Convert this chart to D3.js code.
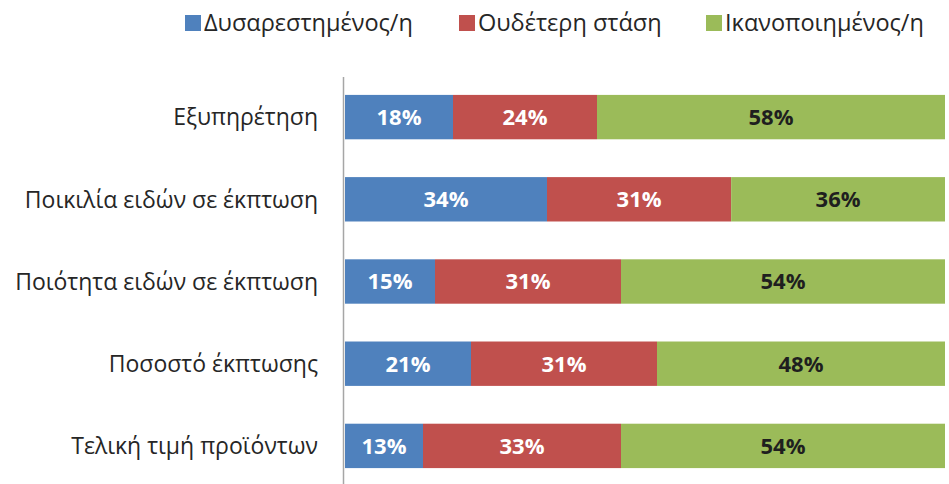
<!DOCTYPE html>
<html>
<head>
<meta charset="utf-8">
<script src="https://cdn.jsdelivr.net/npm/d3@7"></script>
<style>
  body { margin: 0; background: #fff; }
  svg { font-family: "Open Sans", sans-serif; }
</style>
</head>
<body>
<svg width="949" height="484"></svg>
<script>
let categories = [
  "Εξυπηρέτηση",
  "Ποικιλία ειδών σε έκπτωση",
  "Ποιότητα ειδών σε έκπτωση",
  "Ποσοστό έκπτωσης",
  "Τελική τιμή προϊόντων"
];
let seriesNames = ["Δυσαρεστημένος/η", "Ουδέτερη στάση", "Ικανοποιημένος/η"];
let dissatisfied = [18, 34, 15, 21, 13];
let neutral = [24, 31, 31, 31, 33];
let satisfied = [58, 36, 54, 48, 54];

let colors = ["#4f81bd", "#c0504d", "#9bbb59"];
let labelColors = ["#fff", "#fff", "#1f1f1f"];

let keys = ["d", "n", "s"];
let rows = categories.map((c, i) => ({
  cat: c, d: dissatisfied[i], n: neutral[i], s: satisfied[i]
}));

// row 2 adds up to 101, so expand each row to full width
let stacked = d3.stack().keys(keys).offset(d3.stackOffsetExpand)(rows);

let svg = d3.select("svg");

let xScale = d3.scaleLinear().domain([0, 1]).range([345, 945]);
let yScale = d3.scaleBand()
  .domain(categories)
  .range([76, 487])
  .paddingInner(0.46)
  .paddingOuter(0.23);

// bars
let layer = svg.selectAll(".layer")
  .data(stacked)
  .enter()
  .append("g")
  .attr("class", "layer")
  .style("fill", (d, i) => colors[i]);

layer.selectAll("rect")
  .data(d => d)
  .enter()
  .append("rect")
  .attr("x", d => xScale(d[0]))
  .attr("y", d => yScale(d.data.cat))
  .attr("width", d => xScale(d[1]) - xScale(d[0]))
  .attr("height", yScale.bandwidth());

// value labels
stacked.forEach((s, i) => {
  svg.append("g")
    .selectAll("text")
    .data(s)
    .enter()
    .append("text")
    .attr("x", d => (xScale(d[0]) + xScale(d[1])) / 2)
    .attr("y", d => yScale(d.data.cat) + yScale.bandwidth() / 2)
    .attr("dy", "0.36em")
    .attr("text-anchor", "middle")
    .style("font-size", "22px")
    .style("font-weight", "bold")
    .style("fill", labelColors[i])
    .text(d => d.data[s.key] + "%");
});

// y axis
let yAxis = d3.axisLeft(yScale).tickSize(0).tickPadding(26);
let yg = svg.append("g")
  .attr("transform", "translate(344,0)")
  .call(yAxis);
yg.select(".domain").remove();
yg.selectAll("text")
  .attr("dy", "0.36em")
  .style("font-size", "23px")
  .style("fill", "#262626")
  .style("font-family", "'Open Sans', sans-serif");

svg.append("line")
  .attr("x1", 343.5).attr("x2", 343.5)
  .attr("y1", 77).attr("y2", 484)
  .attr("stroke", "#a6a6a6")
  .attr("stroke-width", 1.5);

// legend
let legendX = [185, 459, 706];
let legend = svg.selectAll(".legend")
  .data(seriesNames)
  .enter()
  .append("g")
  .attr("class", "legend")
  .attr("transform", (d, i) => "translate(" + legendX[i] + ",15)");

legend.append("rect")
  .attr("width", 16)
  .attr("height", 16)
  .style("fill", (d, i) => colors[i]);

legend.append("text")
  .attr("x", 19)
  .attr("y", 8)
  .attr("dy", "0.36em")
  .style("font-size", "23.5px")
  .style("fill", "#262626")
  .text(d => d);
</script>
</body>
</html>
